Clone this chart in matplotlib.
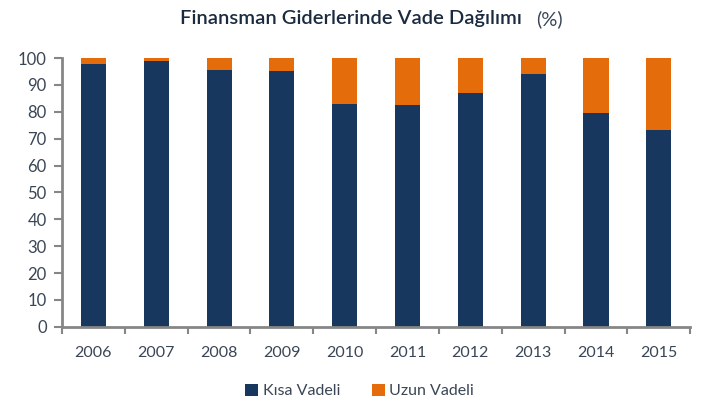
import matplotlib
matplotlib.use("Agg")
import matplotlib.pyplot as plt
import numpy as np

YEARS = ["2006", "2007", "2008", "2009", "2010", "2011", "2012", "2013", "2014", "2015"]
KISA = [97.8, 98.9, 95.7, 95.1, 82.8, 82.7, 87.1, 94.1, 79.6, 73.1]
UZUN = [100 - v for v in KISA]

NAVY = "#17375E"
ORANGE = "#E46C0A"
AXIS_GRAY = "#868686"
TEXT = "#3a4656"

plt.rcParams["font.family"] = ["Lato", "DejaVu Sans"]

fig = plt.figure(figsize=(7.05, 4.03), dpi=100)
ax = fig.add_axes([0.088, 0.189, 0.891, 0.667])

x = np.arange(len(YEARS))
ax.bar(x, KISA, width=0.4, color=NAVY, label="Kısa Vadeli")
ax.bar(x, UZUN, width=0.4, bottom=KISA, color=ORANGE, label="Uzun Vadeli")

ax.set_xlim(-0.5, len(YEARS) - 0.5)
ax.set_ylim(0, 100)
ax.set_yticks(range(0, 101, 10))
ax.tick_params(axis="y", colors=AXIS_GRAY, labelcolor=TEXT, labelsize=12, length=6, width=1.5, pad=5)

ax.set_xticks(x)
ax.set_xticklabels(YEARS)
ax.set_xticks(np.arange(-0.5, len(YEARS)), minor=True)
ax.tick_params(axis="x", which="major", length=0, labelsize=11.5, labelcolor=TEXT, pad=14)
ax.tick_params(axis="x", which="minor", length=5, width=1.5, color=AXIS_GRAY)

for side in ["top", "right"]:
    ax.spines[side].set_visible(False)
for side in ["left", "bottom"]:
    ax.spines[side].set_color(AXIS_GRAY)
    ax.spines[side].set_linewidth(2)

# title: main part dark, "(%)" lighter
fig.text(0.74, 0.953, "Finansman Giderlerinde Vade Dağılımı", ha="right", va="center",
         fontsize=14.5, fontweight="semibold", color="#1a2a3f")
fig.text(0.76, 0.953, "(%)", ha="left", va="center", fontsize=14.5, color=TEXT)

fig.legend(loc="center", bbox_to_anchor=(0.51, 0.03), ncol=2, frameon=False,
           fontsize=11.5, labelcolor=TEXT, handlelength=0.8, handleheight=0.8,
           handletextpad=0.3, columnspacing=2.0)

fig.savefig("out.png", dpi=100)
